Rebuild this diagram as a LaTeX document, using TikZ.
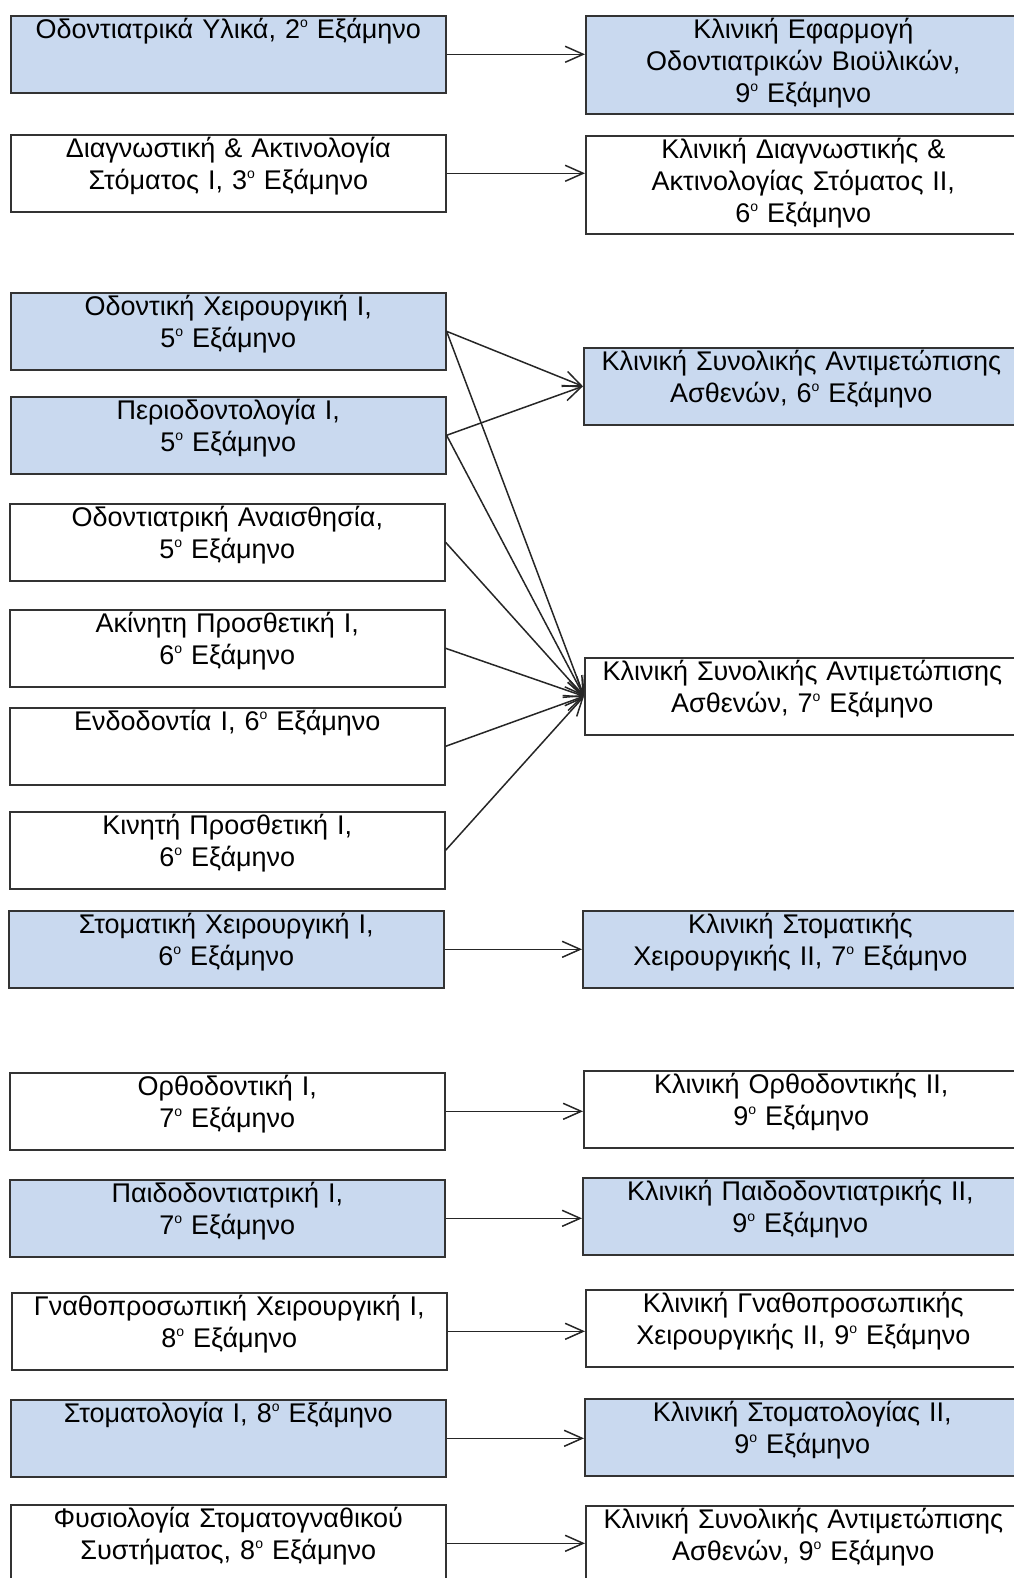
\documentclass[tikz,border=0pt]{standalone}
\usepackage{fontspec}
\setmainfont{Liberation Sans}
\usetikzlibrary{arrows.meta,positioning}
\definecolor{lessonblue}{RGB}{201,217,239}
\newcommand{\ordo}[1]{#1\raisebox{11.5pt}{\fontsize{14pt}{14pt}\selectfont ο}}

\begin{document}
\begin{tikzpicture}[x=1pt, y=-1pt, >={Straight Barb[length=18pt,width=16pt]},
  course/.style={rectangle, draw=black!80, line width=1.6pt, anchor=north west,
    inner xsep=3pt, inner ysep=2pt, text width=429pt, align=center,
    font=\fontsize{27pt}{32pt}\selectfont, text height=21pt, text depth=52pt},
  tall/.style={text depth=73pt},
  shaded/.style={fill=lessonblue},
  link/.style={->, line width=1.5pt, color=black!85}]
\useasboundingbox (0,0) rectangle (1013,1578);

% prerequisite courses
\node[course, shaded] (a_1) at (10,15) {Οδοντιατρικά Υλικά, \ordo{2} Εξάμηνο};
\node[course] (a_2) at (10,134) {Διαγνωστική \& Ακτινολογία\\Στόματος Ι, \ordo{3} Εξάμηνο};
\node[course, shaded] (a_3) at (10,292) {Οδοντική Χειρουργική Ι,\\\ordo{5} Εξάμηνο};
\node[course, shaded] (a_4) at (10,396) {Περιοδοντολογία Ι,\\\ordo{5} Εξάμηνο};
\node[course] (a_5) at (9,503) {Οδοντιατρική Αναισθησία,\\\ordo{5} Εξάμηνο};
\node[course] (a_6) at (9,609) {Ακίνητη Προσθετική Ι,\\\ordo{6} Εξάμηνο};
\node[course] (a_7) at (9,707) {Ενδοδοντία Ι, \ordo{6} Εξάμηνο};
\node[course] (a_8) at (9,811) {Κινητή Προσθετική Ι,\\\ordo{6} Εξάμηνο};
\node[course, shaded] (a_9) at (8,910) {Στοματική Χειρουργική Ι,\\\ordo{6} Εξάμηνο};
\node[course] (a_10) at (9,1072) {Ορθοδοντική Ι,\\\ordo{7} Εξάμηνο};
\node[course, shaded] (a_11) at (9,1179) {Παιδοδοντιατρική Ι,\\\ordo{7} Εξάμηνο};
\node[course] (a_12) at (11,1292) {Γναθοπροσωπική Χειρουργική Ι,\\\ordo{8} Εξάμηνο};
\node[course, shaded] (a_13) at (10,1399) {Στοματολογία Ι, \ordo{8} Εξάμηνο};
\node[course] (a_14) at (10,1504) {Φυσιολογία Στοματογναθικού\\Συστήματος, \ordo{8} Εξάμηνο};

% clinical courses
\node[course, shaded, tall] (k_1) at (585,15) {Κλινική Εφαρμογή\\Οδοντιατρικών Βιοϋλικών,\\\ordo{9} Εξάμηνο};
\node[course, tall] (k_2) at (585,135) {Κλινική Διαγνωστικής \&\\Ακτινολογίας Στόματος ΙΙ,\\\ordo{6} Εξάμηνο};
\node[course, shaded] (k_3) at (583,347) {Κλινική Συνολικής Αντιμετώπισης\\Ασθενών, \ordo{6} Εξάμηνο};
\node[course] (k_4) at (584,657) {Κλινική Συνολικής Αντιμετώπισης\\Ασθενών, \ordo{7} Εξάμηνο};
\node[course, shaded] (k_5) at (582,910) {Κλινική Στοματικής\\Χειρουργικής ΙΙ, \ordo{7} Εξάμηνο};
\node[course] (k_6) at (583,1070) {Κλινική Ορθοδοντικής ΙΙ,\\\ordo{9} Εξάμηνο};
\node[course, shaded] (k_7) at (582,1177) {Κλινική Παιδοδοντιατρικής ΙΙ,\\\ordo{9} Εξάμηνο};
\node[course] (k_8) at (585,1289) {Κλινική Γναθοπροσωπικής\\Χειρουργικής ΙΙ, \ordo{9} Εξάμηνο};
\node[course, shaded] (k_9) at (584,1398) {Κλινική Στοματολογίας ΙΙ,\\\ordo{9} Εξάμηνο};
\node[course] (k_10) at (585,1505) {Κλινική Συνολικής Αντιμετώπισης\\Ασθενών, \ordo{9} Εξάμηνο};

\path[link]
(a_1.east) edge (a_1.east -| k_1.west)
(a_2.east) edge (a_2.east -| k_2.west)
(a_3.east) edge (k_3.west)
	edge (k_4.west)
(a_4.east) edge (k_3.west)
	edge (k_4.west)
(a_5.east) edge (k_4.west)
(a_6.east) edge (k_4.west)
(a_7.east) edge (k_4.west)
(a_8.east) edge (k_4.west)
(a_9.east) edge (a_9.east -| k_5.west)
(a_10.east) edge (a_10.east -| k_6.west)
(a_11.east) edge (a_11.east -| k_7.west)
(a_12.east) edge (a_12.east -| k_8.west)
(a_13.east) edge (a_13.east -| k_9.west)
(a_14.east) edge (a_14.east -| k_10.west);
\end{tikzpicture}
\end{document}
